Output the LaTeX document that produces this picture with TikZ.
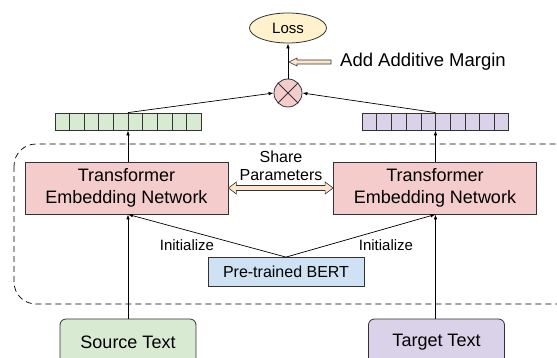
\documentclass[tikz,border=0pt]{standalone}
\usepackage{fontspec}
\setmainfont{Liberation Sans}
\usepackage{tikz}
\usetikzlibrary{calc}
\usetikzlibrary{arrows.meta}
\usetikzlibrary{shapes.geometric}

\definecolor{lossfill}{HTML}{FFF2CC}
\definecolor{pinkfill}{HTML}{F4CCCC}
\definecolor{greenfill}{HTML}{D9EAD3}
\definecolor{purplefill}{HTML}{D9D2E9}
\definecolor{bluefill}{HTML}{CFE2F3}
\definecolor{orangefill}{HTML}{FCE5CD}
\definecolor{edgegray}{HTML}{333333}

\tikzset{
  boxline/.style={draw=edgegray, line width=0.8pt},
  netbox/.style={boxline, fill=pinkfill, minimum width=203pt, minimum height=52pt,
                 align=center, font=\fontsize{18}{22}\selectfont},
  textbox/.style={boxline, rounded corners=6pt, minimum width=136pt, minimum height=46pt,
                  font=\fontsize{18}{22}\selectfont},
  vecbox/.style={boxline, minimum width=146pt, minimum height=17pt, inner sep=0pt},
  flow/.style={draw=black, line width=0.7pt, -{Latex[length=5pt,width=3.5pt]}},
  hollowarrow/.style={draw=edgegray, line width=0.6pt, fill=orangefill}
}

\begin{document}
\begin{tikzpicture}[x=1pt, y=-1pt]
                \useasboundingbox (0,0) rectangle (557,358);
                \clip (0,0) rectangle (557,358);

                % Drawing dashed frame
                \draw [dashed, dash pattern=on 6pt off 4pt, line width=0.7pt, rounded corners=22pt]
                      (14,144) rectangle (580,304);

                % Drawing loss and product nodes
                \node [ellipse, boxline, fill=lossfill, minimum width=77pt, minimum height=30pt,
                       inner sep=0pt, font=\fontsize{15}{18}\selectfont] (loss) at (288,28) {Loss};
                \node [circle, boxline, fill=pinkfill, minimum size=28pt, inner sep=0pt] (prod) at (288,93) {};
                \draw [line width=0.8pt, edgegray] (prod.north west) -- (prod.south east);
                \draw [line width=0.8pt, edgegray] (prod.north east) -- (prod.south west);

                % Drawing embedding vectors
                \node [vecbox, fill=greenfill] (srcvec) at (128,121.5) {};
                \node [vecbox, fill=purplefill] (tgtvec) at (435.5,121.5) {};
                \foreach \v in {srcvec,tgtvec}{
                  \foreach \i in {1,...,9}{
                    \draw [line width=0.6pt, edgegray]
                          ($(\v.north west)!\i/10!(\v.north east)$) -- ($(\v.south west)!\i/10!(\v.south east)$);
                  }
                }

                % Drawing networks and inputs
                \node [netbox] (srcnet) at (126.5,188) {Transformer\\Embedding Network};
                \node [netbox] (tgtnet) at (435,188) {Transformer\\Embedding Network};
                \node [boxline, fill=bluefill, minimum width=156pt, minimum height=29pt,
                       font=\fontsize{16}{19}\selectfont] (bert) at (286,272) {Pre-trained BERT};
                \node [textbox, fill=greenfill] (src) at (128,342) {Source Text};
                \node [textbox, fill=purplefill] (tgt) at (436.5,342) {Target Text};

                % Drawing flow arrows
                \draw [flow] (src.north -| srcvec.north) -- (srcnet.south -| srcvec.north);
                \draw [flow] (tgt.north -| tgtvec.north) -- (tgtnet.south -| tgtvec.north);
                \draw [flow] (srcnet.north -| srcvec.north) -- (srcvec.south);
                \draw [flow] (tgtnet.north -| tgtvec.north) -- (tgtvec.south);
                \draw [flow] (srcvec.north) -- (prod.west);
                \draw [flow] (tgtvec.north) -- (prod.east);
                \draw [flow] (prod.north) -- (loss.south);
                \draw [flow] (bert.north) -- (srcnet.south -| srcvec.north);
                \draw [flow] (bert.north) -- (tgtnet.south -| tgtvec.north);

                % Drawing labels
                \node [font=\fontsize{15}{18}\selectfont] (initl) at (187,245) {Initialize};
                \node [font=\fontsize{15}{18}\selectfont] (initr) at (386,245) {Initialize};
                \node [align=center, font=\fontsize{16}{18}\selectfont] (share) at (281,166) {Share\\Parameters};
                \node [anchor=west, inner sep=0pt, font=\fontsize{18.5}{22}\selectfont] (margin) at (340,62) {Add Additive Margin};

                % Drawing hollow arrow for margin
                \coordinate (mtip) at (289,62);
                \draw [hollowarrow] (mtip) -- ++(8,-4) -- ++(0,2) -- (331,60) -- (331,64)
                      -- ($(mtip)+(8,2)$) -- ++(0,2) -- cycle;

                % Drawing double hollow arrow for shared parameters
                \coordinate (sl) at (srcnet.east |- 0,188);
                \coordinate (sr) at (tgtnet.west |- 0,188);
                \draw [hollowarrow] (sl) -- ++(8,-6) -- ++(0,3.5) -- ($(sr)+(-8,-2.5)$) -- ++(0,-3.5)
                      -- (sr) -- ++(-8,6) -- ++(0,-3.5) -- ($(sl)+(8,2.5)$) -- ++(0,3.5) -- cycle;
            \end{tikzpicture}
\end{document}
